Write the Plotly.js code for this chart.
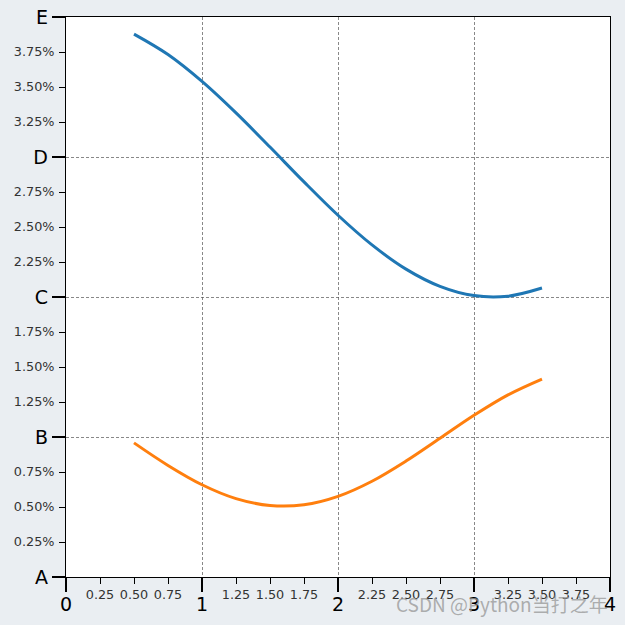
<!DOCTYPE html>
<html>
<head>
<meta charset="utf-8">
<script src="https://cdn.plot.ly/plotly-3.0.1.min.js"></script>
<style>html,body{margin:0;padding:0;background:#eaeef2;}#chart{width:625px;height:625px;}</style>
</head>
<body>
<div id="chart"></div>
<script>
// x positions
const xValues = [0.5, 0.75, 1.0, 1.25, 1.5, 1.75, 2.0, 2.25, 2.5, 2.75, 3.0, 3.25, 3.5];
// blue series
const blueValues = [3.878, 3.732, 3.540, 3.315, 3.071, 2.822, 2.584, 2.372, 2.199, 2.076, 2.010, 2.006, 2.064];
// orange series
const orangeValues = [0.958, 0.797, 0.659, 0.560, 0.511, 0.516, 0.576, 0.684, 0.828, 0.991, 1.155, 1.301, 1.414];

const majorXTicks = [0, 1, 2, 3, 4];
const majorXLabels = ['0', '1', '2', '3', '4'];
const minorXTicks = [0.25, 0.5, 0.75, 1.25, 1.5, 1.75, 2.25, 2.5, 2.75, 3.25, 3.5, 3.75];
const minorXLabels = ['0.25', '0.50', '0.75', '1.25', '1.50', '1.75', '2.25', '2.50', '2.75', '3.25', '3.50', '3.75'];
const majorYTicks = [0, 1, 2, 3, 4];
const majorYLabels = ['A', 'B', 'C', 'D', 'E'];
const minorYTicks = [0.25, 0.5, 0.75, 1.25, 1.5, 1.75, 2.25, 2.5, 2.75, 3.25, 3.5, 3.75];
const minorYLabels = ['0.25%', '0.50%', '0.75%', '1.25%', '1.50%', '1.75%', '2.25%', '2.50%', '2.75%', '3.25%', '3.50%', '3.75%'];

const FONT = 'DejaVu Sans, sans-serif';

const traces = [
  {x: xValues, y: blueValues, type: 'scatter', mode: 'lines',
   line: {color: '#1f77b4', width: 3, shape: 'spline', smoothing: 1}, hoverinfo: 'skip'},
  {x: xValues, y: orangeValues, type: 'scatter', mode: 'lines',
   line: {color: '#ff7f0e', width: 3, shape: 'spline', smoothing: 1}, hoverinfo: 'skip'}
];

const layout = {
  width: 625, height: 625,
  paper_bgcolor: '#eaeef2', plot_bgcolor: '#ffffff',
  margin: {l: 66, r: 15, t: 17, b: 48},
  showlegend: false,
  font: {family: FONT},
  xaxis: {
    range: [0, 4], fixedrange: true, zeroline: false,
    tickmode: 'array', tickvals: majorXTicks, ticktext: majorXLabels,
    ticks: 'outside', ticklen: 14, tickwidth: 1.2, tickcolor: '#000',
    tickfont: {size: 19, color: '#000', family: FONT},
    showline: true, linecolor: '#000', linewidth: 1.2, mirror: true,
    showgrid: true, gridcolor: '#555', gridwidth: 0.7, griddash: '3px,2px',
    ticklabelstandoff: -4
  },
  xaxis2: {
    range: [0, 4], fixedrange: true, overlaying: 'x', anchor: 'y', side: 'bottom',
    zeroline: false, showgrid: false, showline: false,
    tickmode: 'array', tickvals: minorXTicks, ticktext: minorXLabels,
    ticks: 'outside', ticklen: 6, tickwidth: 1, tickcolor: '#000',
    tickfont: {size: 12.8, color: '#333', family: FONT}
  },
  yaxis: {
    range: [0, 4], fixedrange: true, zeroline: false,
    tickmode: 'array', tickvals: majorYTicks, ticktext: majorYLabels,
    ticks: 'outside', ticklen: 13, tickwidth: 1.2, tickcolor: '#000',
    tickfont: {size: 19, color: '#000', family: FONT},
    showline: true, linecolor: '#000', linewidth: 1.2, mirror: true,
    showgrid: true, gridcolor: '#555', gridwidth: 0.7, griddash: '3px,2px'
  },
  yaxis2: {
    range: [0, 4], fixedrange: true, overlaying: 'y', anchor: 'x', side: 'left',
    zeroline: false, showgrid: false, showline: false,
    tickmode: 'array', tickvals: minorYTicks, ticktext: minorYLabels,
    ticks: 'outside', ticklen: 6, tickwidth: 1, tickcolor: '#000',
    tickfont: {size: 12.8, color: '#333', family: FONT},
    ticklabelstandoff: 2
  },
  annotations: [{
    text: 'CSDN @Python当打之年', xref: 'paper', yref: 'paper',
    x: 1.0, y: -0.047, xanchor: 'right', yanchor: 'middle', showarrow: false,
    font: {size: 19, color: 'rgba(150,150,150,0.75)', family: 'Noto Sans CJK SC, DejaVu Sans, sans-serif'}
  }]
};

// invisible trace so overlay axes render
traces.push({x: [0], y: [0], xaxis: 'x2', yaxis: 'y2', type: 'scatter', mode: 'markers',
  marker: {opacity: 0}, hoverinfo: 'skip'});

Plotly.newPlot('chart', traces, layout, {displayModeBar: false, staticPlot: true});
</script>
</body>
</html>
